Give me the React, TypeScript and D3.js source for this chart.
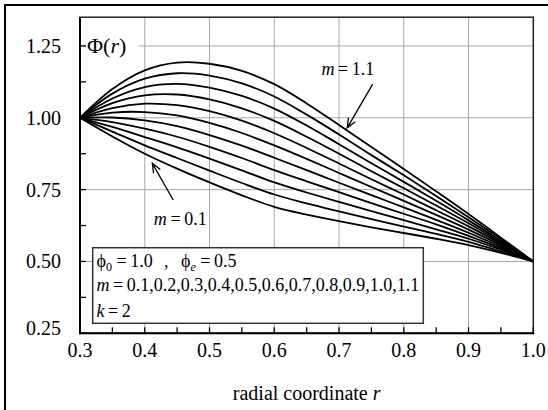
import React, { useEffect, useRef } from 'react';
import * as d3 from 'd3';

// radial coordinate samples
const R_VALUES = [0.3, 0.35, 0.4, 0.45, 0.5, 0.55, 0.6, 0.65, 0.7, 0.75, 0.8, 0.85, 0.9, 0.95, 1.0];

// m values of the curve family
const M_VALUES = [0.1, 0.2, 0.3, 0.4, 0.5, 0.6, 0.7, 0.8, 0.9, 1.0, 1.1];

// Φ(r), one array per m
const PHI_M01 = [1.0, 0.935, 0.875, 0.823, 0.775, 0.730, 0.690, 0.663, 0.640, 0.619, 0.599, 0.579, 0.557, 0.530, 0.5];
const PHI_M02 = [1.0, 0.952, 0.904, 0.860, 0.816, 0.773, 0.733, 0.702, 0.674, 0.647, 0.621, 0.596, 0.568, 0.535, 0.5];
const PHI_M03 = [1.0, 0.968, 0.933, 0.897, 0.858, 0.817, 0.775, 0.740, 0.707, 0.675, 0.644, 0.612, 0.579, 0.541, 0.5];
const PHI_M04 = [1.0, 0.985, 0.962, 0.934, 0.899, 0.860, 0.818, 0.779, 0.741, 0.703, 0.666, 0.629, 0.589, 0.546, 0.5];
const PHI_M05 = [1.0, 1.001, 0.991, 0.971, 0.940, 0.903, 0.861, 0.818, 0.774, 0.731, 0.688, 0.645, 0.600, 0.551, 0.5];
const PHI_M06 = [1.0, 1.018, 1.020, 1.008, 0.982, 0.947, 0.904, 0.857, 0.808, 0.759, 0.711, 0.662, 0.611, 0.557, 0.5];
const PHI_M07 = [1.0, 1.034, 1.049, 1.044, 1.023, 0.990, 0.946, 0.895, 0.841, 0.786, 0.733, 0.678, 0.622, 0.562, 0.5];
const PHI_M08 = [1.0, 1.051, 1.078, 1.081, 1.064, 1.033, 0.989, 0.934, 0.875, 0.814, 0.755, 0.695, 0.633, 0.567, 0.5];
const PHI_M09 = [1.0, 1.067, 1.107, 1.118, 1.105, 1.076, 1.032, 0.973, 0.908, 0.842, 0.777, 0.711, 0.643, 0.572, 0.5];
const PHI_M10 = [1.0, 1.084, 1.136, 1.155, 1.147, 1.120, 1.074, 1.011, 0.942, 0.870, 0.800, 0.728, 0.654, 0.578, 0.5];
const PHI_M11 = [1.0, 1.100, 1.165, 1.192, 1.188, 1.163, 1.117, 1.050, 0.975, 0.898, 0.822, 0.744, 0.665, 0.583, 0.5];

const SERIES = [PHI_M01, PHI_M02, PHI_M03, PHI_M04, PHI_M05, PHI_M06, PHI_M07, PHI_M08, PHI_M09, PHI_M10, PHI_M11];

// axis ticks
const X_MAJOR = [0.3, 0.4, 0.5, 0.6, 0.7, 0.8, 0.9, 1.0];
const X_MINOR = [0.35, 0.45, 0.55, 0.65, 0.75, 0.85, 0.95];
const X_LABELS = ['0.3', '0.4', '0.5', '0.6', '0.7', '0.8', '0.9', '1.0'];
const Y_MAJOR = [0.25, 0.5, 0.75, 1.0, 1.25];
const Y_MINOR = [0.375, 0.625, 0.875, 1.125];
const Y_LABELS = ['0.25', '0.50', '0.75', '1.00', '1.25'];

const SERIF = '"Liberation Serif", "Times New Roman", Tinos, Times, serif';

function arrow(x1: number, y1: number, x2: number, y2: number, len = 10, ang = 0.4) {
  const a = Math.atan2(y2 - y1, x2 - x1);
  const hx1 = x2 - len * Math.cos(a - ang);
  const hy1 = y2 - len * Math.sin(a - ang);
  const hx2 = x2 - len * Math.cos(a + ang);
  const hy2 = y2 - len * Math.sin(a + ang);
  return `M${x1},${y1}L${x2},${y2}M${hx1},${hy1}L${x2},${y2}L${hx2},${hy2}`;
}

export default function App() {
  const ref = useRef<SVGSVGElement>(null);
  const W = 548, H = 410;
  const x = d3.scaleLinear().domain([0.3, 1.0]).range([80, 533.3]);
  const y = d3.scaleLinear().domain([0.25, 1.35]).range([333.3, 17.2]);
  const line = d3
    .line<number>()
    .x((_, i) => x(R_VALUES[i]))
    .y((d) => y(d))
    .curve(d3.curveCatmullRom.alpha(0.5));

  useEffect(() => {
    if (!ref.current) return;
    d3.select(ref.current).selectAll('text').style('font-family', SERIF);
  }, []);

  const x0 = x(0.3), x1 = x(1.0), y0 = y(0.25), y1 = y(1.35);
  const tick = 6;

  return (
    <div style={{ position: 'absolute', left: 0, top: 0 }}>
      <svg ref={ref} width={W} height={H} fontFamily={SERIF}>
        <style>{`text { font-family: ${SERIF}; }`}</style>
        <rect x={0} y={0} width={W} height={H} fill="#fff" />
        {/* outer frame */}
        <rect x={5} y={5} width={560} height={420} fill="none" stroke="#000" strokeWidth={2} />

        {/* grid */}
        {X_MAJOR.filter((v) => v > 0.3 && v < 1.0).map((v) => (
          <line key={'gx' + v} x1={x(v)} x2={x(v)} y1={y0} y2={y1} stroke="#a8a8a8" strokeWidth={1} />
        ))}
        {Y_MAJOR.filter((v) => v > 0.25).map((v) => (
          <line key={'gy' + v} x1={x0} x2={x1} y1={y(v)} y2={y(v)} stroke="#a8a8a8" strokeWidth={1} />
        ))}

        {/* legend box */}
        <rect x={92.7} y={247.7} width={330.6} height={75.6} fill="#fff" stroke="#333" strokeWidth={1.5} />
        <text fontSize={18} y={267}>
          <tspan x={96.5}>ϕ</tspan>
          <tspan fontSize={12} dy={4}>0</tspan>
          <tspan dy={-4}>{' =\u20091.0'}</tspan>
        </text>
        <text fontSize={18} x={164} y={267}>,</text>
        <text fontSize={18} y={267}>
          <tspan x={181}>ϕ</tspan>
          <tspan fontSize={12} dy={4} fontStyle="italic">e</tspan>
          <tspan dy={-4}>{' =\u20090.5'}</tspan>
        </text>
        <text fontSize={18} x={96.5} y={291}>
          <tspan fontStyle="italic">m</tspan>
          <tspan>{'\u2009=\u20090.1,0.2,0.3,0.4,0.5,0.6,0.7,0.8,0.9,1.0,1.1'}</tspan>
        </text>
        <text fontSize={18} x={96.5} y={317}>
          <tspan fontStyle="italic">k</tspan>
          <tspan>{'\u2009=\u20092'}</tspan>
        </text>

        {/* Φ(r) label with white background */}
        <rect x={85} y={33} width={54} height={24} fill="#fff" />
        <text fontSize={22} x={87} y={53}>
          <tspan>Φ(</tspan>
          <tspan fontStyle="italic">r</tspan>
          <tspan>)</tspan>
        </text>

        {/* curves */}
        {SERIES.map((s, i) => (
          <path key={'c' + M_VALUES[i]} d={line(s) || ''} fill="none" stroke="#000" strokeWidth={1.8} />
        ))}

        {/* plot border */}
        <rect x={x0} y={y1} width={x1 - x0} height={y0 - y1} fill="none" stroke="#222" strokeWidth={1.5} />
        <line x1={x0} x2={x0} y1={y1} y2={y0 + 1} stroke="#000" strokeWidth={2} />
        <line x1={x0 - 1} x2={x1 + 1} y1={y0} y2={y0} stroke="#000" strokeWidth={2} />

        {/* ticks */}
        {X_MAJOR.concat(X_MINOR).map((v) => (
          <line key={'tx' + v} x1={x(v)} x2={x(v)} y1={y0} y2={y0 - tick} stroke="#000" strokeWidth={1.3} />
        ))}
        {Y_MAJOR.concat(Y_MINOR).map((v) => (
          <line key={'ty' + v} x1={x0} x2={x0 + tick} y1={y(v)} y2={y(v)} stroke="#000" strokeWidth={1.3} />
        ))}

        {/* tick labels */}
        {X_MAJOR.map((v, i) => (
          <text key={'lx' + v} x={x(v)} y={357} fontSize={20} textAnchor="middle">{X_LABELS[i]}</text>
        ))}
        {Y_MAJOR.map((v, i) => (
          <text key={'ly' + v} x={61} y={y(v) + 7 + (v === 0.25 ? -5 : 0)} fontSize={20} textAnchor="end">{Y_LABELS[i]}</text>
        ))}

        {/* axis title */}
        <text x={(x0 + x1) / 2} y={400} fontSize={20} textAnchor="middle">
          <tspan>radial coordinate </tspan>
          <tspan fontStyle="italic">r</tspan>
        </text>

        {/* annotations */}
        <text x={x(0.6728)} y={75} fontSize={18}>
          <tspan fontStyle="italic">m</tspan>
          <tspan>{'\u2009=\u20091.1'}</tspan>
        </text>
        <path d={arrow(x(0.752), y(1.117), x(0.7126), y(0.965))} fill="none" stroke="#000" strokeWidth={1.3} />
        <text x={x(0.414)} y={225} fontSize={18}>
          <tspan fontStyle="italic">m</tspan>
          <tspan>{'\u2009=\u20090.1'}</tspan>
        </text>
        <path d={arrow(x(0.444), y(0.714), x(0.4117), y(0.8415))} fill="none" stroke="#000" strokeWidth={1.3} />
      </svg>
    </div>
  );
}
